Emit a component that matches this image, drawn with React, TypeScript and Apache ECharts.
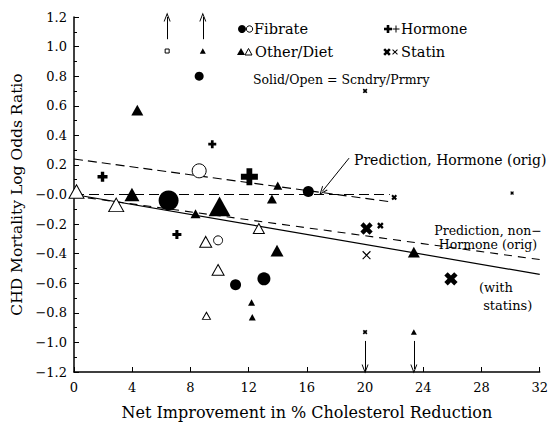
import React, { useEffect, useRef } from "react";
import * as echarts from "echarts";

// [x, y, weight]
const fibrateSolid: [number, number, number][] = [
  [6.5, -0.04, 20], [8.6, 0.8, 9], [16.1, 0.02, 11], [11.1, -0.61, 11], [13.05, -0.57, 13],
];
const fibrateOpen: [number, number, number][] = [
  [8.6, 0.16, 14], [9.9, -0.31, 9],
];
const dietSolid: [number, number, number][] = [
  [4.35, 0.57, 12], [3.98, 0.0, 15], [10.0, -0.08, 22], [14.0, 0.06, 9], [13.6, -0.03, 10],
  [8.35, -0.13, 10], [13.95, -0.38, 13], [23.35, -0.39, 12], [12.2, -0.73, 7], [12.25, -0.83, 7],
];
const dietOpen: [number, number, number][] = [
  [0.17, 0.02, 15], [2.9, -0.07, 15], [12.7, -0.23, 11], [9.05, -0.32, 12], [9.9, -0.51, 12], [9.1, -0.82, 8],
];
const hormoneSolid: [number, number, number][] = [
  [12.05, 0.12, 17], [1.96, 0.12, 10], [7.07, -0.27, 9], [9.5, 0.34, 8],
];
const statinSolid: [number, number, number][] = [
  [20.1, -0.23, 13], [25.9, -0.57, 14], [21.05, -0.21, 7], [22.0, -0.02, 6], [20.0, 0.7, 5], [30.1, 0.01, 4],
];
const statinOpen: [number, number, number][] = [[20.1, -0.41, 11]];

// off-scale studies (shown at the edge, with arrows)
const offScaleOpenCircle: [number, number, number][] = [[6.4, 0.97, 4]];
const offScaleTriangle: [number, number, number][] = [[8.85, 0.97, 6], [23.35, -0.93, 6]];
const offScaleStatin: [number, number, number][] = [[20.0, -0.93, 5]];
const upArrowX = [6.4, 8.85];
const downArrowX = [20.0, 23.35];
const upArrowY = [1.05, 1.2];
const downArrowY = [-0.99, -1.18];

// prediction lines: [x, y]
const hormonePred = [[0, 0.24], [21.8, -0.05]];
const zeroLine = [[0, 0], [21.7, 0]];
const nonHormonePred = [[0, -0.01], [32, -0.44]];
const statinFit = [[0, 0.0], [32, -0.54]];
const pointerArrow = [[18.9, 0.246], [17.05, 0.02]];

const xTicks = { min: 0, max: 32, interval: 4 };
const yTicks = { min: -1.2, max: 1.2, interval: 0.2 };

const FONT = "DejaVu Serif";
const PLUS_BOLD = "path://M33,0L67,0L67,33L100,33L100,67L67,67L67,100L33,100L33,67L0,67L0,33L33,33Z";
const PLUS_THIN = "path://M45,0L55,0L55,45L100,45L100,55L55,55L55,100L45,100L45,55L0,55L0,45L45,45Z";
const VARROW = "path://M0,10L5,0L10,10L8.6,10L5,2.8L1.4,10Z";

const solid = { color: "#000", opacity: 1 };
const open = { color: "#fff", borderColor: "#000", borderWidth: 1, opacity: 1 };

function sc(name: string, data: any[], symbol: string, itemStyle: any, rotate = 0) {
  return {
    name,
    type: "scatter",
    data,
    symbol,
    symbolRotate: rotate,
    symbolSize: (v: number[]) => (symbol === "triangle" ? [v[2], v[2] * 0.9] : v[2]),
    itemStyle,
    z: 5,
    silent: true,
  };
}

function ln(data: number[][], type: any, width = 1.1) {
  return {
    type: "line",
    data,
    showSymbol: false,
    symbol: "none",
    silent: true,
    lineStyle: { color: "#000", width, type },
    z: 3,
  };
}

function plusGroup(x: number, y: number, s: number, t: number, rot: number) {
  return {
    type: "group",
    x,
    y,
    rotation: rot,
    children: [
      { type: "rect", shape: { x: -s / 2, y: -t / 2, width: s, height: t }, style: { fill: "#000" } },
      { type: "rect", shape: { x: -t / 2, y: -s / 2, width: t, height: s }, style: { fill: "#000" } },
    ],
  };
}

function txt(x: number, y: number, text: string, size = 13, align = "left", lineHeight?: number) {
  return {
    type: "text",
    x,
    y,
    style: {
      text,
      fontFamily: FONT,
      fontSize: size,
      fill: "#000",
      align,
      verticalAlign: "middle",
      lineHeight: lineHeight ?? Math.round(size * 1.2),
    },
  };
}

export default function App() {
  const ref = useRef<HTMLDivElement>(null);
  useEffect(() => {
    const chart = echarts.init(ref.current!, null, { renderer: "svg" });
    const arrowLines = [
      ...upArrowX.map((x) => [{ coord: [x, upArrowY[0]] }, { coord: [x, upArrowY[1]] }]),
      ...downArrowX.map((x) => [{ coord: [x, downArrowY[0]] }, { coord: [x, downArrowY[1]] }]),
      [{ coord: pointerArrow[0] }, { coord: pointerArrow[1] }],
    ];
    chart.setOption({
      animation: false,
      backgroundColor: "#fff",
      grid: { left: 74, right: 7, top: 17, bottom: 42, containLabel: false },
      xAxis: {
        type: "value",
        ...xTicks,
        name: "Net Improvement in % Cholesterol Reduction",
        nameLocation: "middle",
        nameGap: 32,
        nameTextStyle: { fontFamily: FONT, fontSize: 16, color: "#000" },
        axisLine: { show: true, onZero: false, lineStyle: { color: "#000", width: 1.5 } },
        axisTick: { show: true, inside: true, length: 5, lineStyle: { color: "#000" } },
        axisLabel: { color: "#000", fontFamily: FONT, fontSize: 13, margin: 9 },
        splitLine: { show: false },
      },
      yAxis: {
        type: "value",
        ...yTicks,
        name: "CHD Mortality Log Odds Ratio",
        nameLocation: "middle",
        nameGap: 47,
        nameTextStyle: { fontFamily: FONT, fontSize: 15.5, color: "#000" },
        axisLine: { show: true, onZero: false, lineStyle: { color: "#000", width: 1.5 } },
        axisTick: { show: true, inside: true, length: 5, lineStyle: { color: "#000" } },
        minorTick: { show: true, splitNumber: 2, length: 3, lineStyle: { color: "#000" } },
        axisLabel: {
          color: "#000",
          fontFamily: FONT,
          fontSize: 13,
          margin: 7,
          formatter: (v: number) => {
            const r = Math.round(v * 10) / 10;
            if (r === 0) return "\u22120.0";
            return r < 0 ? "\u2212" + Math.abs(r).toFixed(1) : r.toFixed(1);
          },
        },
        splitLine: { show: false },
      },
      series: [
        ln(hormonePred, [9, 5]),
        ln(zeroLine, [10, 5], 1.2),
        ln(nonHormonePred, [8, 6]),
        ln(statinFit, "solid", 1.2),
        sc("Fibrate Scndry", fibrateSolid, "circle", solid),
        sc("Fibrate Prmry", fibrateOpen, "circle", open),
        sc("Other/Diet Scndry", dietSolid, "triangle", solid),
        sc("Other/Diet Prmry", dietOpen, "triangle", open),
        sc("Hormone Scndry", hormoneSolid, PLUS_BOLD, solid),
        sc("Statin Scndry", statinSolid, PLUS_BOLD, solid, 45),
        sc("Statin Prmry", statinOpen, PLUS_THIN, solid, 45),
        sc("off-scale open", offScaleOpenCircle, "rect", open),
        sc("off-scale statin", offScaleStatin, PLUS_BOLD, solid, 45),
        {
          ...sc("off-scale triangle", offScaleTriangle, "triangle", solid),
          markLine: {
            silent: true,
            symbol: ["none", VARROW],
            symbolSize: [7, 9],
            label: { show: false },
            lineStyle: { color: "#000", width: 1, type: "solid", opacity: 1 },
            emphasis: { disabled: true },
            data: arrowLines,
          },
        },
      ],
      graphic: [
        { type: "circle", shape: { cx: 242, cy: 29, r: 4 }, style: { fill: "#000" } },
        { type: "circle", shape: { cx: 249.5, cy: 29, r: 3.2 }, style: { fill: "#fff", stroke: "#000", lineWidth: 1 } },
        txt(254, 29, "Fibrate", 14.5),
        plusGroup(388, 29, 8, 2.6, 0),
        plusGroup(396, 29, 7, 1, 0),
        txt(401, 29, "Hormone", 14),
        { type: "polygon", shape: { points: [[241, 48], [245, 55], [237, 55]] }, style: { fill: "#000" } },
        { type: "polygon", shape: { points: [[248.5, 48.5], [252, 55], [245, 55]] }, style: { fill: "#fff", stroke: "#000", lineWidth: 1 } },
        txt(255, 52, "Other/Diet", 14.5),
        plusGroup(387, 52, 8, 2.6, Math.PI / 4),
        plusGroup(395, 52, 7, 1, Math.PI / 4),
        txt(401, 52, "Statin", 14.5),
        txt(253, 79, "Solid/Open = Scndry/Prmry", 12.5),
        txt(354, 160, "Prediction, Hormone (orig)", 14),
        txt(488, 237.5, "Prediction, non\u2212\nHormone (orig)", 12.5, "center", 13.5),
        txt(479, 296, "(with\n statins)", 13, "left", 18),
      ],
    });
    return () => chart.dispose();
  }, []);
  return (
    <div
      ref={ref}
      style={{ position: "fixed", left: 0, top: 0, width: 551, height: 425, background: "#fff" }}
    />
  );
}
